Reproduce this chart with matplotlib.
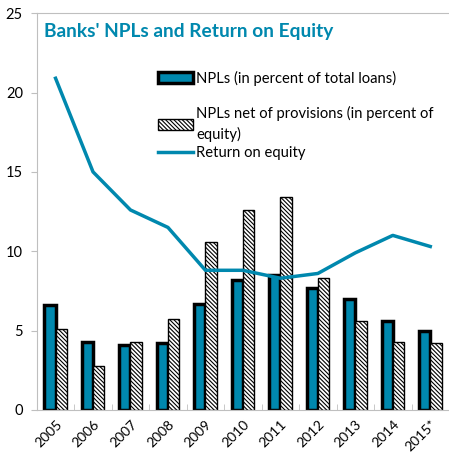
import matplotlib.pyplot as plt
import numpy as np

plt.rcParams['font.family'] = ['Lato', 'DejaVu Sans']
plt.rcParams['hatch.linewidth'] = 0.8
plt.rcParams['hatch.color'] = '#404040'

years = ["2005", "2006", "2007", "2008", "2009", "2010", "2011", "2012", "2013", "2014", "2015*"]
npls = [6.6, 4.3, 4.1, 4.2, 6.7, 8.2, 8.5, 7.7, 7.0, 5.6, 4.95]
npls_net = [5.1, 2.8, 4.3, 5.7, 10.6, 12.6, 13.4, 8.3, 5.6, 4.3, 4.2]
roe = [20.9, 15.0, 12.6, 11.5, 8.8, 8.8, 8.3, 8.6, 9.9, 11.0, 10.3]

blue = "#0088ae"
grey = "#bfbfbf"

fig = plt.figure(figsize=(4.49, 4.55), dpi=100)
ax = fig.add_axes([0.082, 0.099, 0.918, 0.872])

x = np.arange(len(years))
w = 0.3
b1 = ax.bar(x - w / 2, npls, w, color=blue, edgecolor="black", linewidth=2.5,
            label="NPLs (in percent of total loans)", zorder=2)
b2 = ax.bar(x + w / 2, npls_net, w, color="white", edgecolor="black", linewidth=1.0,
            hatch="\\\\\\\\\\\\\\\\", label="NPLs net of provisions (in percent of\nequity)", zorder=2)
l1, = ax.plot(x, roe, color=blue, linewidth=2.5, label="Return on equity", zorder=3)

ax.set_xlim(-0.5, len(years) - 0.5)
ax.set_ylim(0, 25)
ax.set_yticks([0, 5, 10, 15, 20, 25])
ax.set_xticks(x)
ax.set_xticklabels(years, rotation=45, ha="right", rotation_mode="anchor", fontsize=10)
ax.set_xticks(np.arange(-0.5, len(years), 1), minor=True)
ax.tick_params(axis="x", which="major", length=0, pad=6)
ax.tick_params(axis="x", which="minor", direction="in", length=4, color=grey)
ax.tick_params(axis="y", length=4, color=grey, labelsize=10.5, pad=6)

for s in ["left", "top", "bottom"]:
    ax.spines[s].set_color(grey)
ax.spines["right"].set_visible(False)

ax.text(0.017, 0.975, "Banks' NPLs and Return on Equity", transform=ax.transAxes,
        fontsize=13.75, fontweight="bold", color=blue, va="top", ha="left")

leg_kw = dict(frameon=False, fontsize=10.6, handlelength=2.4, handletextpad=0.2,
              borderpad=0, borderaxespad=0)
leg1 = ax.legend(handles=[b1], loc="center left", bbox_to_anchor=(0.294, 0.836), **leg_kw)
ax.add_artist(leg1)
leg2 = ax.legend(handles=[b2, l1], loc="upper left", bbox_to_anchor=(0.294, 0.765),
                 labelspacing=0.3, **leg_kw)
leg2.get_texts()[0].set_linespacing(1.45)

fig.savefig("out.png", dpi=100)
